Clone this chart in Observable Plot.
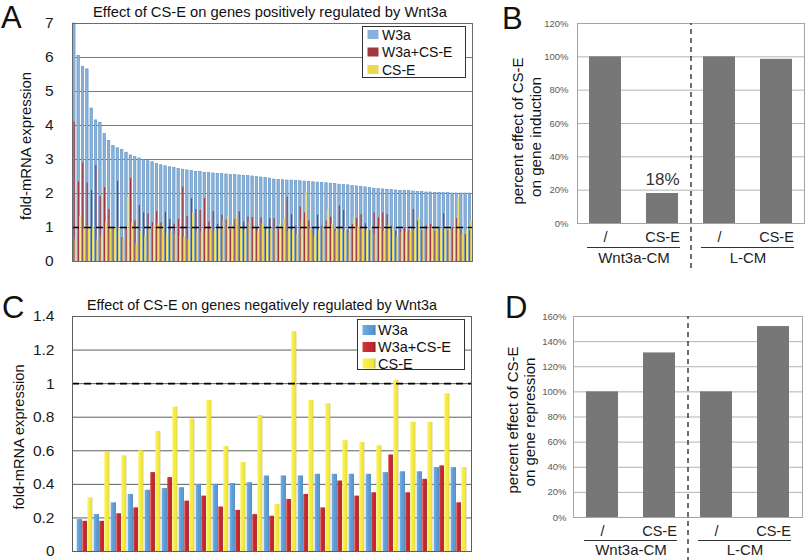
<!DOCTYPE html>
<html>
<head>
<meta charset="utf-8">
<script src="https://cdn.jsdelivr.net/npm/d3@7"></script>
<script src="https://cdn.jsdelivr.net/npm/@observablehq/plot@0.6"></script>
<style>
  html, body { margin: 0; padding: 0; background: #fff; }
  #fig { position: relative; width: 805px; height: 560px; overflow: hidden; background: #fff; }
  #fig svg { position: absolute; }
</style>
</head>
<body>
<div id="fig"></div>
<script>
// ---------------- DATA ----------------
// Panel A: genes positively regulated by Wnt3a (fold-mRNA expression)
const posW3a = [7.0, 6.05, 5.72, 5.65, 4.5, 4.15, 4.08, 3.75, 3.55, 3.4, 3.33, 3.28, 3.2, 3.12, 3.07, 3.03, 2.99, 2.95, 2.92, 2.87,
  2.83, 2.8, 2.77, 2.75, 2.72, 2.7, 2.68, 2.66, 2.64, 2.63, 2.61, 2.6, 2.59, 2.58, 2.57, 2.56, 2.55, 2.54, 2.53, 2.52,
  2.51, 2.5, 2.48, 2.47, 2.46, 2.44,
  2.41, 2.40, 2.39, 2.38, 2.38, 2.37, 2.36, 2.35, 2.34, 2.33, 2.32, 2.31, 2.30, 2.29, 2.28, 2.26, 2.25, 2.24, 2.22, 2.21,
  2.19, 2.18, 2.16, 2.14, 2.13, 2.12, 2.11, 2.10, 2.09, 2.08, 2.08, 2.07, 2.06, 2.05, 2.04, 2.03, 2.03, 2.02, 2.02, 2.01,
  2.01, 2.0, 2.0, 2.0, 2.0, 2.0];
const posW3aCSE = [4.1, 2.34, 2.9, 2.31, 2.09, 2.82, 1.92, 2.17, 1.53, 1.0, 2.36, 0.7, 1.0, 2.44, 1.19, 1.65, 1.43, 1.4, 1.14, 1.47,
  1.14, 1.45, 1.24, 1.09, 1.24, 2.19, 1.33, 1.84, 1.53, 1.5, 1.85, 1.16, 1.46, 1.09, 1.36, 1.22, 0.94, 1.24, 1.46, 1.16,
  1.31, 1.29, 0.99, 1.28, 1.0, 1.26,
  1.26, 0.94, 0.99, 1.89, 1.38, 1.04, 1.6, 1.43, 1.19, 0.99, 1.36, 1.04, 1.19, 1.3, 0.94, 1.63, 1.5, 0.91, 1.09, 1.26,
  1.38, 1.11, 0.91, 1.43, 1.28, 1.43, 1.38, 1.04, 0.89, 0.94, 0.99, 0.91, 1.53, 1.19, 0.91, 1.04, 1.09, 0.89, 1.01, 1.4,
  0.91, 0.99, 1.26, 0.94, 0.79, 0.91];
const posCSE = [0.65, 1.33, 0.94, 1.04, 0.99, 0.63, 0.75, 1.16, 0.97, 0.97, 0.97, 0.67, 1.89, 1.14, 0.52, 0.89, 0.75, 0.97, 1.04, 1.11,
  1.04, 0.81, 0.89, 0.81, 0.75, 0.72, 0.65, 1.43, 0.87, 0.87, 0.91, 0.94, 0.89, 0.97, 1.19, 1.33, 1.07, 1.26, 1.04, 0.91,
  1.17, 0.94, 0.89, 1.11, 0.91, 0.97,
  0.94, 1.09, 1.26, 0.89, 0.91, 0.79, 1.19, 2.02, 0.94, 0.75, 0.91, 0.99, 1.53, 1.09, 0.89, 0.97, 0.91, 0.84, 1.3, 1.01,
  0.97, 0.91, 1.01, 0.79, 0.97, 0.89, 1.07, 1.01, 0.72, 0.84, 0.84, 0.89, 0.91, 1.28, 0.97, 0.91, 0.97, 1.01, 0.94, 0.97,
  1.04, 0.94, 1.89, 0.79, 0.91, 1.19];
const posTicks = [0, 1, 2, 3, 4, 5, 6, 7];

// Panel C: genes negatively regulated by Wnt3a
const negW3a    = [0.19, 0.22, 0.29, 0.34, 0.365, 0.375, 0.38, 0.40, 0.40, 0.405, 0.41, 0.45, 0.45, 0.45, 0.46, 0.46, 0.46, 0.46, 0.47, 0.475, 0.475, 0.50, 0.50];
const negW3aCSE = [0.18, 0.18, 0.225, 0.26, 0.47, 0.44, 0.30, 0.33, 0.265, 0.245, 0.22, 0.21, 0.31, 0.34, 0.26, 0.42, 0.33, 0.35, 0.575, 0.35, 0.43, 0.51, 0.29];
const negCSE    = [0.32, 0.59, 0.57, 0.60, 0.715, 0.86, 0.79, 0.90, 0.625, 0.53, 0.81, 0.28, 1.31, 0.90, 0.88, 0.66, 0.65, 0.63, 1.02, 0.77, 0.77, 0.94, 0.50];
const negTicks = [0, 0.2, 0.4, 0.6, 0.8, 1, 1.2, 1.4];

// Panels B and D
const treatments = ["/", "CS-E", "/", "CS-E"];
const conditions = ["Wnt3a-CM", "Wnt3a-CM", "L-CM", "L-CM"];
const inductionPct = [100, 18, 100, 98.5];
const repressionPct = [100, 131, 100, 152];
const inductionTicks = [0, 20, 40, 60, 80, 100, 120];
const repressionTicks = [0, 20, 40, 60, 80, 100, 120, 140, 160];
const annotatedIndex = [1]; // the "18%" annotation in panel B

const seriesNames = ["W3a", "W3a+CS-E", "CS-E"];

// ---------------- STYLE ----------------
const FONT = "'Liberation Sans', Arial, Helvetica, sans-serif";
const colA = {w3a: "#88b2da", both: "#a0373e", cse: "#eed84c"};
const colC = {w3a: "#5b9bd5", both: "#c1272d", cse: "#f4e93a"};
const barGray = "#777777";

const fig = document.getElementById("fig");
function place(svg, left, top) {
  svg.style.position = "absolute";
  svg.style.left = left + "px";
  svg.style.top = top + "px";
  svg.style.background = "transparent";
  fig.appendChild(svg);
}

// gradients giving the 3-D look of the panel C columns
const defsSvg = d3.select(fig).append("svg").attr("width", 0).attr("height", 0).style("left", "0px").style("top", "0px");
const defs = defsSvg.append("defs");
function grad(id, light, base, dark) {
  const g = defs.append("linearGradient").attr("id", id).attr("x1", "0").attr("x2", "1").attr("y1", "0").attr("y2", "0");
  [[0, light], [0.55, base], [0.8, base], [1, dark]].forEach(([o, c]) => g.append("stop").attr("offset", o).attr("stop-color", c));
}
grad("gBlue", "#76b0e2", colC.w3a, "#3d78b0");
grad("gRed", "#d23a40", colC.both, "#8a171c");
grad("gYellow", "#fbf36a", colC.cse, "#b9b27a");

// ---------------- PANEL A ----------------
const posRows = posW3a.map((v, i) => ({gene: i, w3a: v, both: posW3aCSE[i], cse: posCSE[i]}));
const plotA = Plot.plot({
  width: 480, height: 276, marginLeft: 72, marginRight: 8, marginTop: 23, marginBottom: 15,
  style: {fontFamily: FONT, background: "transparent", color: "#1a1a1a"},
  x: {type: "band", domain: posRows.map(d => d.gene), padding: 0, axis: null},
  y: {domain: [0, 7]},
  marks: [
    Plot.gridY(posTicks.slice(1), {stroke: "#7a7a7a", strokeOpacity: 1}),
    Plot.barY(posRows, {x: "gene", y: "w3a", fill: colA.w3a, stroke: "#5f90c2", strokeWidth: 0.6, insetLeft: 0.6, insetRight: 1.3}),
    Plot.barY(posRows, {x: "gene", y: "both", fill: colA.both, insetLeft: 1.5, insetRight: 1.65}),
    Plot.barY(posRows, {x: "gene", y: "cse", fill: colA.cse, insetLeft: 2.65, insetRight: 0.15}),
    Plot.ruleY([1], {stroke: "#000", strokeWidth: 1.6, strokeDasharray: "7,5"}),
    Plot.frame({stroke: "#6a6a6a"}),
    Plot.axisY(posTicks, {tickSize: 0, tickPadding: 19, fontSize: 15.5, label: null})
  ]
});
place(plotA, 0, 0);

// ---------------- PANEL C ----------------
const negRows = negW3a.map((v, i) => ({gene: i, w3a: v, both: negW3aCSE[i], cse: negCSE[i]}));
const plotC = Plot.plot({
  width: 480, height: 280, marginLeft: 72, marginRight: 9, marginTop: 36, marginBottom: 9,
  style: {fontFamily: FONT, background: "transparent", color: "#1a1a1a"},
  x: {type: "band", domain: negRows.map(d => d.gene), padding: 0, axis: null},
  y: {domain: [0, 1.4]},
  marks: [
    Plot.gridY(negTicks.slice(1), {stroke: "#5e5e5e", strokeOpacity: 1}),
    Plot.barY(negRows, {x: "gene", y: "w3a", fill: "url(#gBlue)", insetLeft: 0.7, insetRight: 11.1}),
    Plot.barY(negRows, {x: "gene", y: "both", fill: "url(#gRed)", insetLeft: 6.3, insetRight: 6.1}),
    Plot.barY(negRows, {x: "gene", y: "cse", fill: "url(#gYellow)", insetLeft: 11.3, insetRight: 0.7}),
    Plot.ruleY([1], {stroke: "#000", strokeWidth: 1.6, strokeDasharray: "7,5"}),
    Plot.frame({stroke: "#5e5e5e"}),
    Plot.axisY(negTicks, {tickSize: 0, tickPadding: 18, fontSize: 15.5, label: null, tickFormat: d => String(+d.toFixed(1))})
  ]
});
place(plotC, 0, 280);

// ---------------- PANELS B / D ----------------
function effectPanel(values, ticks, dims, annot) {
  const rows = values.map((v, i) => ({key: conditions[i] + "|" + treatments[i] + "|" + i, treat: treatments[i], cond: conditions[i], value: v, i}));
  const keys = rows.map(d => d.key);
  const groups = [];
  rows.forEach(r => {
    const g = groups.find(g => g.name === r.cond);
    if (g) g.to = r.key; else groups.push({name: r.cond, from: r.key, to: r.key});
  });
  const ymax = ticks[ticks.length - 1];
  const pxPerUnit = (dims.height - dims.marginTop - dims.marginBottom) / ymax;
  const toVal = px => -px / pxPerUnit; // value for a pixel distance below the baseline
  return Plot.plot({
    ...dims,
    style: {fontFamily: FONT, background: "transparent", color: "#222"},
    x: {type: "band", domain: keys, paddingInner: 0.44, paddingOuter: 0.21},
    y: {domain: [0, ymax]},
    marks: [
      Plot.gridY(ticks.slice(1), {stroke: "#b3b3b3", strokeOpacity: 1}),
      Plot.barY(rows, {x: "key", y: "value", fill: barGray}),
      Plot.text(rows.filter(d => annot.includes(d.i)), {x: "key", y: "value", text: d => d.value + "%", dy: -14, fontSize: 17, fill: "#333"}),
      Plot.frame({stroke: "#a5a5a5"}),
      Plot.axisY(ticks, {tickSize: 0, tickPadding: dims.tickPad, fontSize: 9.5, fill: "#5a5a5a", tickFormat: d => d + "%", label: null}),
      Plot.axisX(keys, {tickSize: 0, tickPadding: 8, fontSize: 14.5, fill: "#222", tickFormat: k => k.split("|")[1], label: null}),
      Plot.ruleX([keys[1]], {dx: 28.5, y1: toVal(dims.dashBelow), y2: ymax, stroke: "#222", strokeWidth: 1.3, strokeDasharray: "5,4"}),
      Plot.ruleY(groups, {x1: "from", x2: "to", y: toVal(dims.underline), stroke: "#333", strokeWidth: 1.2, insetLeft: -2, insetRight: -2}),
      Plot.text(groups, {x: "from", dx: 28.5, y: toVal(dims.groupLabel), text: "name", fontSize: 15, fill: "#222"})
    ]
  });
}
const plotB = effectPanel(inductionPct, inductionTicks,
  {width: 300, height: 280, marginLeft: 72, marginRight: 1, marginTop: 23, marginBottom: 57, tickPad: 9,
   dashBelow: 45, underline: 24, groupLabel: 35}, annotatedIndex);
place(plotB, 505, 0);
const plotD = effectPanel(repressionPct, repressionTicks,
  {width: 300, height: 280, marginLeft: 68, marginRight: 3, marginTop: 36, marginBottom: 43, tickPad: 7,
   dashBelow: 45, underline: 23, groupLabel: 33}, []);
place(plotD, 505, 280);

// ---------------- TEXT OVERLAY (letters, titles, axis titles, legends) ----------------
const ov = d3.select(fig).append("svg")
  .attr("width", 805).attr("height", 560)
  .style("left", "0px").style("top", "0px").style("overflow", "visible")
  .attr("font-family", FONT);
function label(x, y, s, size, o = {}) {
  const t = ov.append("text").attr("x", x).attr("y", y).attr("font-size", size)
    .attr("fill", o.fill || "#111").attr("text-anchor", o.anchor || "start").text(s);
  if (o.rotate) t.attr("transform", `rotate(${o.rotate},${x},${y})`);
  if (o.len) t.attr("textLength", o.len).attr("lengthAdjust", "spacingAndGlyphs");
  return t;
}
// panel letters
label(1, 28, "A", 31);
label(502, 29, "B", 31);
label(2, 318, "C", 31);
label(505, 318, "D", 31);
// titles
label(270, 17, "Effect of CS-E on genes positively regulated by Wnt3a", 14.5, {anchor: "middle", len: 354});
label(262, 310, "Effect of CS-E on genes negatively regulated by Wnt3a", 14.5, {anchor: "middle", len: 350});
// y axis titles
label(31, 146, "fold-mRNA expression", 14.5, {anchor: "middle", rotate: -90, len: 148});
label(24, 437, "fold-mRNA expression", 14.5, {anchor: "middle", rotate: -90, len: 145});
label(523, 131, "percent effect of CS-E", 15, {anchor: "middle", rotate: -90, len: 147});
label(541, 137, "on gene induction", 15, {anchor: "middle", rotate: -90, len: 120});
label(518, 420, "percent effect of CS-E", 15, {anchor: "middle", rotate: -90, len: 147});
label(535, 422, "on gene repression", 15, {anchor: "middle", rotate: -90, len: 129});

// legends
function legend(x, y, w, h, rowYs, swW, swH, textX, size, colors) {
  ov.append("rect").attr("x", x).attr("y", y).attr("width", w).attr("height", h)
    .attr("fill", "#fff").attr("stroke", "#333").attr("stroke-width", 1);
  seriesNames.forEach((name, i) => {
    ov.append("rect").attr("x", x + 5).attr("y", rowYs[i] - swH / 2).attr("width", swW).attr("height", swH).attr("fill", colors[i]);
    label(textX, rowYs[i] + size * 0.36, name, size);
  });
}
legend(362.5, 26.5, 103, 51, [34.5, 52, 69.5], 11, 9, 382, 14, [colA.w3a, colA.both, colA.cse]);
legend(357.5, 319.5, 107, 50, [330, 347, 363.5], 13, 10, 378, 14.5, ["url(#gBlue)", "url(#gRed)", "url(#gYellow)"]);
</script>
</body>
</html>
